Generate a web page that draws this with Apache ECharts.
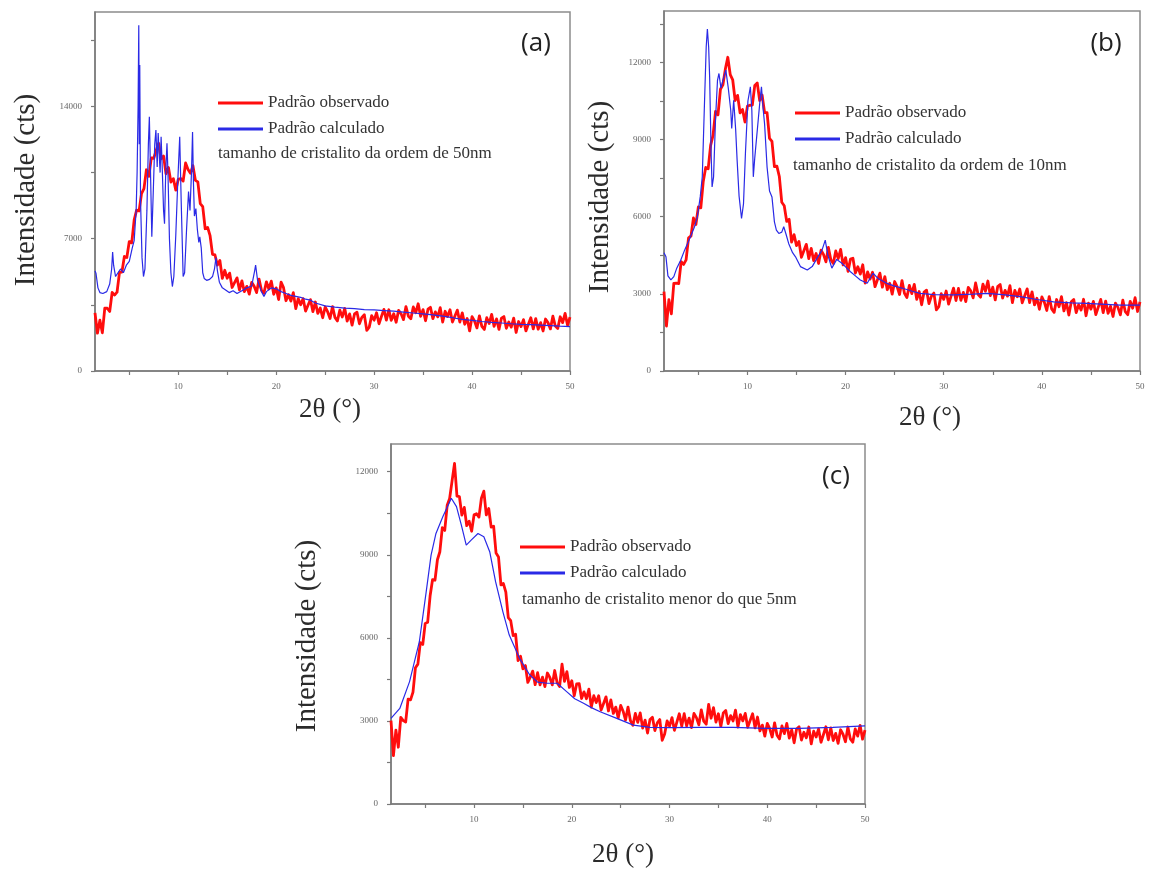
<!DOCTYPE html>
<html>
<head>
<meta charset="utf-8">
<script src="https://cdn.jsdelivr.net/npm/echarts@6/dist/echarts.min.js"></script>
<style>
  html, body { margin: 0; padding: 0; background: #ffffff; }
  #chart { width: 1154px; height: 871px; }
</style>
</head>
<body>
<div id="chart"></div>
<script>
// Observed XRD patterns: counts sampled every 0.25° of 2θ starting at 1.5°
const thetaStart = 1.5;
const thetaStep = 0.25;

const observedA = [
  3080,2000,2690,2020,3330,3320,3150,4160,4020,4170,
  5220,5240,6060,6010,6850,6780,8000,8510,8470,9390,
  9650,10650,10300,11280,11260,11680,12050,11230,11380,10440,
  10770,10000,10180,9570,10140,10190,10050,11010,10670,10470,
  10870,10090,10010,8860,8700,7530,7600,7160,6170,6140,
  5600,5850,4900,5330,4910,5180,4420,4680,4930,4290,
  4770,4200,4480,4070,4690,4490,4150,4860,4270,4120,
  4720,4340,4760,4060,4400,3780,4700,4410,3720,4040,
  3700,4150,3300,3830,3510,3830,3170,3480,3780,3140,
  3650,3050,3330,2820,3390,3140,2780,3410,2840,2650,
  3220,2860,3310,2640,3020,2430,3020,3110,2500,2840,
  2980,2150,2320,2930,2690,3080,2500,2890,3260,2690,
  3240,2680,3030,2580,3210,3030,2720,3410,2900,2770,
  3390,3080,3560,2890,3250,2660,3270,3370,2770,3130,
  2870,3350,2590,3160,2880,3240,2590,2910,3220,2590,
  3080,2470,2780,2120,2880,2650,2280,2920,2360,2200,
  2820,2510,3000,2360,2760,2200,2800,2880,2260,2590,
  2320,2800,2040,2620,2350,2720,2120,2480,2820,2230,
  2770,2210,2560,2120,2750,2560,2230,2900,2380,2250,
  2870,2560,3050,2420,2850
];

const observedB = [
  3090,1750,2775,2225,3410,3415,3395,4255,4145,4320,
  5180,5250,5950,5695,6380,6345,7370,7915,7860,8775,
  9170,10100,9960,10955,11125,11740,12200,11525,11325,10520,
  10720,10040,10170,9680,10300,10335,10345,11105,11200,10520,
  10730,10050,10050,9045,8930,7945,7970,7565,6560,6425,
  5820,5900,5010,5305,4875,5040,4420,4675,4925,4370,
  4770,4290,4570,4180,4700,4535,4245,4805,4325,4180,
  4670,4370,4730,4125,4410,3875,4350,4385,3810,4055,
  3770,4130,3420,3855,3575,3840,3280,3545,3805,3260,
  3670,3160,3410,2990,3480,3285,2975,3515,3025,2860,
  3330,3010,3370,2785,3090,2575,3070,3145,2620,2915,
  3030,2380,2500,3005,2785,3110,2600,2915,3225,2740,
  3210,2750,3060,2700,3250,3115,2845,3425,2985,2870,
  3380,3100,3500,2935,3260,2765,3280,3365,2840,3135,
  2910,3320,2660,3135,2885,3190,2650,2925,3195,2660,
  3080,2570,2830,2400,2880,2675,2355,2895,2415,2280,
  2780,2500,2890,2335,2660,2175,2690,2785,2270,2575,
  2370,2790,2150,2635,2405,2710,2190,2485,2785,2270,
  2720,2240,2520,2120,2640,2475,2185,2755,2305,2190,
  2710,2440,2850,2315,2690
];

const observedC = [
  3010,1750,2670,2050,3130,3010,2960,3790,3760,4040,
  4920,5050,5830,5760,6520,6560,7510,8100,8080,8820,
  9110,9980,9880,10790,11030,11670,12300,11120,11100,10430,
  10710,10050,10210,9850,10440,10480,10360,11040,11300,10440,
  10670,10000,10030,9060,8920,7910,7960,7650,6730,6620,
  6080,6130,5180,5340,4880,5000,4390,4580,4800,4310,
  4740,4300,4580,4240,4730,4570,4300,4820,4380,4240,
  5050,4430,4780,4210,4450,3910,4340,4350,3810,4050,
  3800,4150,3500,3910,3660,3910,3390,3630,3870,3360,
  3760,3270,3500,3110,3560,3350,3030,3500,3010,2840,
  3270,2950,3290,2740,3030,2560,3050,3130,2650,2930,
  3050,2300,2530,3000,2810,3120,2660,2960,3260,2810,
  3260,2820,3100,2760,3270,3120,2860,3400,2990,2880,
  3600,3100,3480,2960,3260,2800,3290,3380,2900,3190,
  3000,3390,2780,3230,3000,3270,2770,3020,3260,2750,
  3140,2640,2850,2450,2910,2720,2420,2930,2480,2350,
  2820,2540,2910,2380,2680,2210,2710,2790,2310,2590,
  2390,2780,2170,2630,2420,2710,2230,2510,2790,2320,
  2750,2290,2550,2190,2680,2520,2250,2780,2350,2230,
  2710,2450,2840,2340,2670
];

// Calculated patterns: 2θ positions and counts
const calcThetaA = [
  1.5,1.6,1.8,2.0,2.3,2.7,3.0,3.2,3.3,3.4,3.6,3.8,4.1,4.4,4.7,5.0,5.3,5.5,5.7,5.8,
  5.9,5.97,6.02,6.07,6.15,6.3,6.45,6.6,6.8,6.95,7.05,7.15,7.3,7.45,7.6,7.72,7.85,7.95,8.05,8.15,
  8.25,8.35,8.5,8.6,8.72,8.85,8.95,9.1,9.25,9.4,9.55,9.75,9.95,10.15,10.3,10.5,10.65,10.85,11.05,11.2,
  11.35,11.46,11.55,11.65,11.8,11.95,12.1,12.2,12.35,12.5,12.65,12.9,13.2,13.5,13.7,13.85,14.0,14.2,14.5,14.8,
  15.2,15.6,16.0,16.5,17.0,17.5,17.8,17.9,18.1,18.5,18.75,19.0,19.5,20.0,20.5,21.0,21.5,22.0,22.5,23.0,
  23.5,24.0,25.0,26.0,27.0,28.0,29.0,30.0,31.0,32.0,33.0,34.0,35.0,36.0,37.0,38.0,39.0,40.0,41.0,42.0,
  43.0,44.0,45.0,46.0,47.0,48.0,49.0,50.0
];
const calcCtsA = [
  5300,5175,4400,4150,4100,4200,4600,5400,6300,5600,5000,4950,5400,5200,5600,5800,6500,6900,8500,10500,
  14000,18300,12000,16200,9000,6000,5000,5400,8500,12000,13450,11000,7100,9500,12000,12750,10800,12600,12700,10500,
  12400,11000,8500,7800,10500,12050,10500,7000,5200,4470,5000,7200,10000,12400,9000,5000,5200,7500,9500,8500,
  10500,12650,10000,8200,8600,7500,6800,7100,6500,5200,4900,4800,4850,5000,5400,6000,5300,4700,4400,4300,
  4150,4250,4100,4250,4400,4500,5300,5600,4800,4200,3950,4200,4400,4350,4200,4100,4000,3950,3900,3800,
  3750,3600,3450,3380,3330,3300,3250,3230,3200,3170,3120,3070,3020,2970,2900,2820,2730,2680,2620,2570,
  2540,2500,2470,2450,2430,2400,2370,2350
];

const calcThetaB = [
  1.5,1.7,1.9,2.2,2.5,2.8,3.2,3.6,4.2,4.6,4.9,5.2,5.4,5.6,5.8,5.92,6.05,6.15,6.3,6.4,
  6.55,6.75,6.95,7.1,7.3,7.5,7.8,8.05,8.3,8.4,8.6,8.8,8.95,9.15,9.4,9.6,9.8,10.05,10.3,10.45,
  10.6,10.75,11.1,11.3,11.43,11.6,11.75,12.0,12.25,12.5,12.75,12.95,13.2,13.5,13.7,13.95,14.2,14.6,14.9,15.4,
  16.1,16.6,17.1,17.6,17.93,18.2,18.6,19.1,19.6,20.0,20.5,21.0,21.5,22.2,22.8,23.3,24.2,25.0,25.9,26.8,
  27.6,29.0,31.0,33.0,34.4,36.0,37.8,39.5,41.2,43.0,44.6,46.5,48.0,50.0
];
const calcCtsB = [
  4600,4440,3700,3540,3670,4000,4310,4700,5220,5600,6000,6800,7550,10100,12600,13300,12600,11440,8500,7160,
  7550,9800,11300,11570,11000,11300,11700,11000,10140,9430,10530,9400,8200,6800,5930,6500,8500,10500,11050,10140,
  7550,8300,9760,10600,11050,10200,9600,7940,7000,6770,5800,5480,5350,5400,5610,5300,4960,4600,4440,4060,
  3930,4060,4390,4700,5090,4500,4000,4340,4200,4050,3860,3700,3540,3410,3800,3600,3410,3300,3210,3100,
  3020,2970,2960,2990,3020,2970,2890,2780,2690,2650,2630,2590,2560,2560
];

const calcThetaC = [
  1.5,2.4,3.4,4.4,5.1,5.6,6.1,6.8,7.3,7.67,8.2,8.7,9.2,9.7,10.4,11.0,11.6,12.2,12.95,13.6,
  14.65,15.7,16.5,17.5,18.5,19.5,20.3,21.2,22.0,22.9,24.6,26.3,28.0,30.0,33.1,36.5,39.9,43.3,46.7,50.0
];
const calcCtsC = [
  3090,3450,4420,5860,7660,8990,9770,10370,10750,11040,10740,10070,9350,9530,9770,9650,9110,8030,6940,6100,
  5260,4660,4400,4360,4360,4050,3800,3640,3480,3330,3090,2850,2770,2760,2770,2770,2730,2730,2770,2820
];

// Axis ticks and labels
const xTickValues = [5, 10, 15, 20, 25, 30, 35, 40, 45, 50];
const xLabelValues = [10, 20, 30, 40, 50];
const yTicksA = [0, 3500, 7000, 10500, 14000, 17500];
const yLabelsA = [0, 7000, 14000];
const yTicksB = [0, 1500, 3000, 4500, 6000, 7500, 9000, 10500, 12000, 13500];
const yLabelsB = [0, 3000, 6000, 9000, 12000];
const yTicksC = [0, 1500, 3000, 4500, 6000, 7500, 9000, 10500, 12000];
const yLabelsC = [0, 3000, 6000, 9000, 12000];
const yMax = [19000, 14000, 13000];

const seriesNames = ['Padrão observado', 'Padrão calculado'];
const panelLetters = ['(a)', '(b)', '(c)'];
const sizeNotes = [
  'tamanho de cristalito da ordem de 50nm',
  'tamanho de cristalito da ordem de 10nm',
  'tamanho de cristalito menor do que 5nm'
];
const yTitle = 'Intensidade (cts)';
const xTitle = '2θ (°)';

const SERIF = '"Liberation Serif", "DejaVu Serif", serif';
const RED = '#ff0d0d';
const BLUE = '#2a2ae6';

// Layout of the three panels
const grids = [
  { left: 95, top: 12, width: 475, height: 359 },
  { left: 664, top: 11, width: 476, height: 360 },
  { left: 391, top: 444, width: 474, height: 360 }
];
const yTickSets = [yTicksA, yTicksB, yTicksC];
const yLabelSets = [yLabelsA, yLabelsB, yLabelsC];
const observedSets = [observedA, observedB, observedC];
const calcSets = [[calcThetaA, calcCtsA], [calcThetaB, calcCtsB], [calcThetaC, calcCtsC]];

const legendPos = [
  { left: 218, top: 94 },
  { left: 795, top: 104 },
  { left: 520, top: 538 }
];
const notePos = [[218, 154], [793, 166], [522, 600]];
const letterPos = [[536, 44], [1106, 44], [836, 477]];
const yTitlePos = [[26, 190], [600, 197], [307, 636]];
const xTitlePos = [[330, 410], [930, 418], [623, 855]];

const axisGrey = '#7a7a7a';

const option = {
  animation: false,
  backgroundColor: '#ffffff',
  grid: grids.map(g => Object.assign({
    show: true, borderColor: '#8c8c8c', borderWidth: 1.5, backgroundColor: 'transparent'
  }, g)),
  xAxis: grids.map((g, i) => ({
    type: 'value', gridIndex: i, min: thetaStart, max: 50,
    axisLine: { show: true, lineStyle: { color: axisGrey, width: 1.5 } },
    axisTick: { show: true, inside: false, length: 4, customValues: xTickValues,
      lineStyle: { color: axisGrey, width: 1.2 } },
    axisLabel: { show: true, customValues: xLabelValues, margin: 11,
      fontFamily: SERIF, fontSize: 9, color: '#666',
      formatter: v => String(v) },
    splitLine: { show: false }
  })),
  yAxis: grids.map((g, i) => ({
    type: 'value', gridIndex: i, min: 0, max: yMax[i],
    axisLine: { show: true, lineStyle: { color: axisGrey, width: 1.5 } },
    axisTick: { show: true, inside: false, length: 4, customValues: yTickSets[i],
      lineStyle: { color: axisGrey, width: 1.2 } },
    axisLabel: { show: true, customValues: yLabelSets[i], margin: 13,
      fontFamily: SERIF, fontSize: 9, color: '#666',
      formatter: v => String(v) },
    splitLine: { show: false }
  })),
  legend: legendPos.map(p => ({
    left: p.left, top: p.top, orient: 'vertical', padding: 0,
    icon: 'rect', itemWidth: 45, itemHeight: 3, itemGap: 8,
    selectedMode: false,
    data: seriesNames,
    textStyle: { fontFamily: SERIF, fontSize: 17, color: '#333', lineHeight: 18 }
  })),
  series: [],
  graphic: []
};

observedSets.forEach((obs, i) => {
  option.series.push({
    name: seriesNames[0], type: 'line', xAxisIndex: i, yAxisIndex: i,
    showSymbol: false, symbol: 'none', silent: true,
    lineStyle: { color: RED, width: 2.8, join: 'round' }, itemStyle: { color: RED },
    data: obs.map((v, k) => [thetaStart + k * thetaStep, v])
  });
});
calcSets.forEach(([th, ct], i) => {
  option.series.push({
    name: seriesNames[1], type: 'line', xAxisIndex: i, yAxisIndex: i,
    showSymbol: false, symbol: 'none', silent: true,
    lineStyle: { color: BLUE, width: 1.2 }, itemStyle: { color: BLUE },
    data: th.map((t, k) => [t, ct[k]])
  });
});

for (let i = 0; i < 3; i++) {
  option.graphic.push(
    { type: 'text', x: notePos[i][0], y: notePos[i][1], silent: true,
      style: { text: sizeNotes[i], fontFamily: SERIF, fontSize: 17, fill: '#333',
        align: 'left', verticalAlign: 'middle' } },
    { type: 'text', x: letterPos[i][0], y: letterPos[i][1], silent: true,
      style: { text: panelLetters[i], fontFamily: '"Open Sans", "Noto Sans", sans-serif',
        fontSize: 26, fill: '#222', align: 'center', verticalAlign: 'middle' } },
    { type: 'text', x: yTitlePos[i][0], y: yTitlePos[i][1], rotation: Math.PI / 2, silent: true,
      style: { text: yTitle, fontFamily: SERIF, fontSize: 29, fill: '#2b2b2b',
        align: 'center', verticalAlign: 'middle' } },
    { type: 'text', x: xTitlePos[i][0], y: xTitlePos[i][1], silent: true,
      style: { text: xTitle, fontFamily: SERIF, fontSize: 27, fill: '#2b2b2b',
        align: 'center', verticalAlign: 'middle' } }
  );
}

const chart = echarts.init(document.getElementById('chart'), null, { renderer: 'canvas' });
chart.setOption(option);
</script>
</body>
</html>
